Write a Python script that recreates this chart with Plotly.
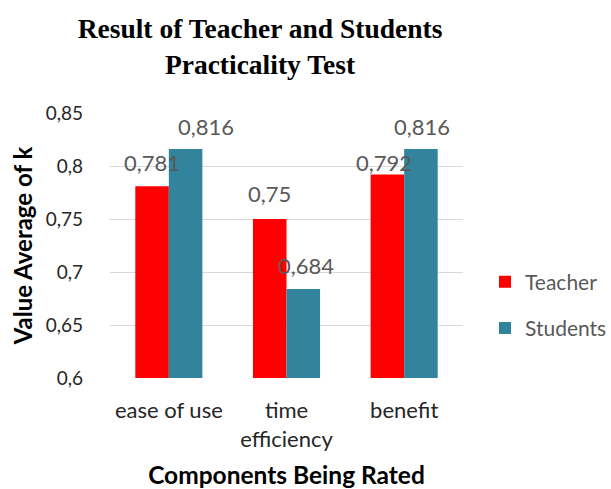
import plotly.graph_objects as go

categories = ["ease of use", "time<br>efficiency", "benefit"]
series_names = ["Teacher", "Students"]
teacher = [0.781, 0.75, 0.792]
students = [0.816, 0.684, 0.816]
teacher_labels = ["0,781", "0,75", "0,792"]
students_labels = ["0,816", "0,684", "0,816"]
y_tickvals = [0.6, 0.65, 0.7, 0.75, 0.8, 0.85]
y_ticktext = ["0,6", "0,65", "0,7", "0,75", "0,8", "0,85"]

colors = ["#ff0000", "#31849b"]
font_main = "Lato"

fig = go.Figure()
fig.add_trace(go.Bar(x=categories, y=teacher, name=series_names[0], legendgroup="t",
                     marker=dict(color=colors[0], line=dict(width=0))))
fig.add_trace(go.Bar(x=categories, y=students, name=series_names[1], legendgroup="s",
                     marker=dict(color=colors[1], line=dict(width=0))))

# data label offsets (px) relative to bar tops
t_xshift = [-17, -17, -20]
s_xshift = [37, 19, 18]
t_yshift = [24, 26, 12]
s_yshift = [23, 23, 23]
annotations = []
for i, c in enumerate(categories):
    annotations.append(dict(x=c, y=teacher[i], text=teacher_labels[i], xref="x", yref="y",
                            showarrow=False, xshift=t_xshift[i], yshift=t_yshift[i],
                            font=dict(family=font_main, size=22, color="#595959")))
    annotations.append(dict(x=c, y=students[i], text=students_labels[i], xref="x", yref="y",
                            showarrow=False, xshift=s_xshift[i], yshift=s_yshift[i],
                            font=dict(family=font_main, size=22, color="#595959")))

fig.update_layout(
    width=611, height=489,
    margin=dict(l=110, r=148, t=113, b=111, autoexpand=False),
    paper_bgcolor="white", plot_bgcolor="white",
    barmode="group", bargap=0.43, bargroupgap=0,
    title=dict(text="<b>Result of Teacher and Students<br>Practicality Test</b>",
               x=260/611, xanchor="center", y=1-38/489, yanchor="middle",
               font=dict(family="Liberation Serif", size=27.5, color="black")),
    legend=dict(x=(485-110)/(611-110-148), xanchor="left", y=0.275, yanchor="middle",
                font=dict(family=font_main, size=21, color="#595959"),
                traceorder="grouped", tracegroupgap=16, itemwidth=30,
                bgcolor="rgba(0,0,0,0)"),
    annotations=annotations,
    showlegend=True,
)
fig.update_xaxes(
    automargin=False,
    showgrid=False, showline=False, ticks="",
    ticklabelstandoff=17,
    tickfont=dict(family=font_main, size=22, color="#262626"),
    title=dict(text="<b>Components Being Rated</b>", standoff=20,
               font=dict(family=font_main, size=24.5, color="black")),
)
fig.update_yaxes(
    automargin=False,
    range=[0.6, 0.85], tickvals=y_tickvals, ticktext=y_ticktext,
    showgrid=True, gridcolor="#d9d9d9", gridwidth=1.3,
    zeroline=False, showline=False, ticks="",
    ticklabelstandoff=26,
    tickfont=dict(family=font_main, size=19, color="#262626"),
    title=dict(text="<b>Value Average of k</b>", standoff=6,
               font=dict(family=font_main, size=24, color="black")),
)
fig.write_html("out.html", config={"displayModeBar": False},
               post_script="document.body.style.margin='0';")
